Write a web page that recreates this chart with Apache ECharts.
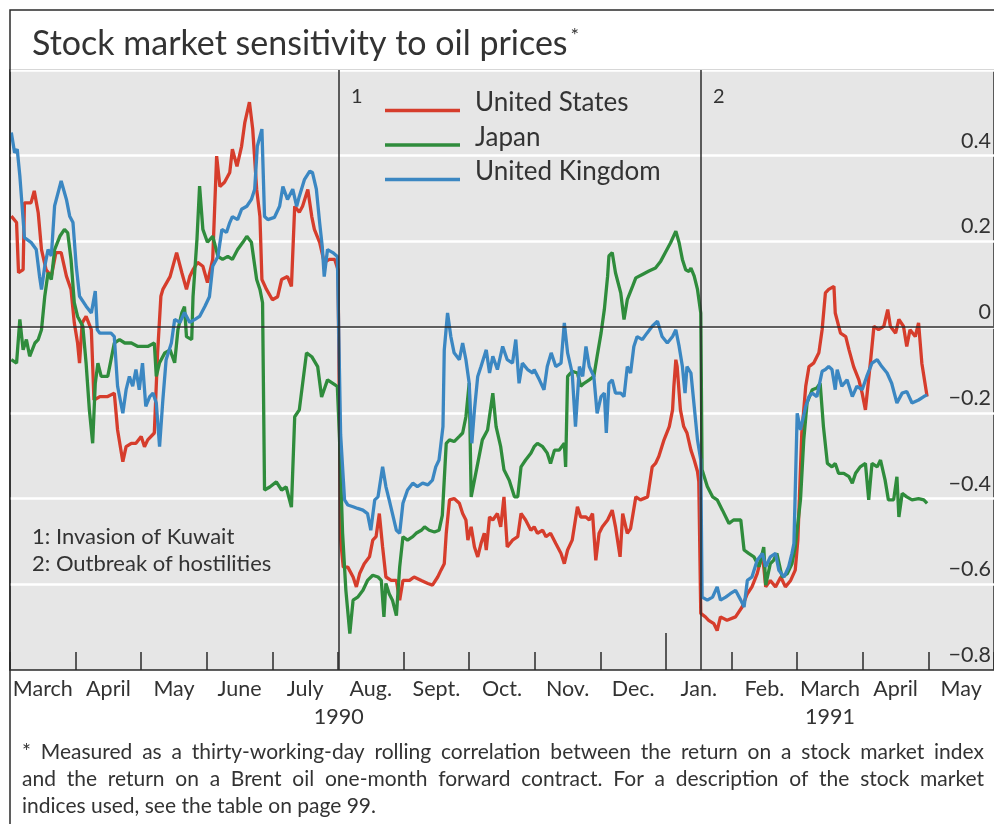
<!DOCTYPE html>
<html>
<head>
<meta charset="utf-8">
<script src="https://cdn.jsdelivr.net/npm/echarts@6/dist/echarts.min.js"></script>
<style>
  html, body { margin: 0; padding: 0; background: #ffffff; }
  #chart { width: 994px; height: 824px; }
</style>
</head>
<body>
<div id="chart"></div>
<script>
// ---- Data (x = months since 1 March 1990, y = rolling correlation) ----
const monthLabels = ['March', 'April', 'May', 'June', 'July', 'Aug.', 'Sept.', 'Oct.', 'Nov.', 'Dec.', 'Jan.', 'Feb.', 'March', 'April', 'May'];
const yearLabels = ['1990', '1991'];
const yearLabelAt = [5.01, 12.5];
const eventMonths = [5.01, 10.53];
const eventTags = ['1', '2'];
const eventNotes = ['1: Invasion of Kuwait', '2: Outbreak of hostilities'];
const seriesNames = ['United States', 'Japan', 'United Kingdom'];

const usData = [
[0.02,0.259],[0.10,0.244],[0.13,0.127],[0.20,0.134],[0.22,0.29],[0.32,0.29],[0.37,0.318],[0.43,0.267],[0.48,0.181],[0.55,0.134],[0.63,0.119],[0.70,0.174],[0.78,0.174],[0.86,0.119],[0.93,0.088],[0.98,0.010],[1.03,-0.037],[1.06,-0.084],[1.10,0.010],[1.16,0.025],[1.24,-0.006],[1.28,-0.170],[1.37,-0.162],[1.49,-0.162],[1.59,-0.154],[1.64,-0.240],[1.72,-0.314],[1.77,-0.279],[1.85,-0.271],[1.92,-0.271],[2.00,-0.255],[2.05,-0.279],[2.10,-0.263],[2.20,-0.247],[2.25,-0.060],[2.30,0.072],[2.33,0.088],[2.44,0.118],[2.54,0.174],[2.62,0.127],[2.69,0.088],[2.74,0.118],[2.79,0.134],[2.86,0.151],[2.94,0.142],[3.01,0.104],[3.09,0.158],[3.15,0.399],[3.20,0.328],[3.27,0.338],[3.35,0.361],[3.39,0.415],[3.46,0.375],[3.53,0.422],[3.58,0.478],[3.65,0.525],[3.70,0.462],[3.76,0.322],[3.81,0.258],[3.84,0.111],[3.91,0.088],[4.00,0.064],[4.08,0.071],[4.14,0.111],[4.23,0.118],[4.29,0.095],[4.34,0.282],[4.41,0.268],[4.46,0.282],[4.54,0.321],[4.60,0.258],[4.64,0.228],[4.72,0.198],[4.79,0.151],[4.87,0.158],[4.95,0.158],[5.00,0.134],[5.04,-0.497],[5.08,-0.560],[5.15,-0.560],[5.23,-0.583],[5.28,-0.606],[5.33,-0.575],[5.40,-0.552],[5.48,-0.536],[5.53,-0.497],[5.58,-0.489],[5.63,-0.435],[5.68,-0.513],[5.73,-0.583],[5.81,-0.591],[5.89,-0.591],[5.94,-0.637],[5.99,-0.591],[6.09,-0.591],[6.16,-0.583],[6.27,-0.591],[6.37,-0.598],[6.44,-0.602],[6.52,-0.583],[6.57,-0.567],[6.62,-0.552],[6.65,-0.481],[6.70,-0.403],[6.77,-0.400],[6.85,-0.411],[6.90,-0.435],[6.95,-0.450],[6.98,-0.497],[7.03,-0.466],[7.08,-0.513],[7.13,-0.536],[7.18,-0.505],[7.23,-0.481],[7.26,-0.520],[7.31,-0.443],[7.36,-0.450],[7.43,-0.435],[7.48,-0.466],[7.53,-0.396],[7.58,-0.513],[7.66,-0.497],[7.74,-0.489],[7.79,-0.435],[7.86,-0.450],[7.94,-0.474],[7.99,-0.466],[8.04,-0.481],[8.12,-0.474],[8.17,-0.489],[8.24,-0.481],[8.32,-0.505],[8.40,-0.528],[8.45,-0.552],[8.50,-0.520],[8.57,-0.497],[8.65,-0.419],[8.70,-0.443],[8.78,-0.443],[8.83,-0.450],[8.88,-0.435],[8.93,-0.544],[8.98,-0.481],[9.03,-0.466],[9.11,-0.450],[9.18,-0.427],[9.23,-0.466],[9.30,-0.536],[9.34,-0.435],[9.41,-0.481],[9.46,-0.470],[9.54,-0.396],[9.61,-0.403],[9.72,-0.396],[9.79,-0.326],[9.84,-0.318],[9.89,-0.302],[9.97,-0.263],[10.05,-0.232],[10.10,-0.193],[10.12,-0.138],[10.15,-0.076],[10.17,-0.092],[10.22,-0.193],[10.27,-0.232],[10.32,-0.247],[10.38,-0.287],[10.43,-0.310],[10.48,-0.337],[10.50,-0.361],[10.53,-0.668],[10.60,-0.676],[10.65,-0.684],[10.73,-0.692],[10.78,-0.708],[10.83,-0.676],[10.93,-0.684],[11.06,-0.676],[11.16,-0.653],[11.24,-0.622],[11.31,-0.606],[11.39,-0.575],[11.47,-0.528],[11.52,-0.606],[11.59,-0.591],[11.67,-0.606],[11.75,-0.583],[11.82,-0.606],[11.90,-0.591],[11.97,-0.567],[12.01,-0.497],[12.07,-0.247],[12.13,-0.138],[12.18,-0.092],[12.25,-0.084],[12.33,-0.060],[12.38,-0.006],[12.43,0.080],[12.48,0.088],[12.56,0.095],[12.58,0.033],[12.66,-0.014],[12.74,-0.022],[12.79,-0.053],[12.86,-0.092],[12.94,-0.123],[12.99,-0.154],[13.04,-0.193],[13.12,-0.076],[13.17,0.002],[13.24,-0.006],[13.32,0.002],[13.38,0.041],[13.42,0.002],[13.50,-0.014],[13.55,0.018],[13.62,0.002],[13.67,-0.045],[13.72,-0.006],[13.80,-0.022],[13.85,0.010],[13.90,-0.084],[13.98,-0.162]
];

const japanData = [
[0.02,-0.076],[0.10,-0.084],[0.15,0.018],[0.20,-0.053],[0.25,-0.029],[0.30,-0.068],[0.38,-0.037],[0.43,-0.029],[0.48,-0.006],[0.53,0.072],[0.58,0.127],[0.63,0.111],[0.68,0.181],[0.76,0.212],[0.83,0.228],[0.88,0.220],[0.93,0.158],[0.98,0.057],[1.03,0.025],[1.11,0.002],[1.16,-0.084],[1.21,-0.193],[1.26,-0.271],[1.30,-0.131],[1.34,-0.084],[1.39,-0.115],[1.49,-0.115],[1.59,-0.037],[1.67,-0.029],[1.75,-0.037],[1.85,-0.037],[1.95,-0.045],[2.10,-0.045],[2.20,-0.037],[2.23,-0.115],[2.28,-0.083],[2.36,-0.060],[2.44,-0.053],[2.51,-0.083],[2.56,-0.006],[2.62,0.034],[2.66,0.048],[2.69,-0.022],[2.77,-0.029],[2.79,0.071],[2.85,0.205],[2.89,0.329],[2.94,0.228],[3.01,0.198],[3.09,0.212],[3.17,0.165],[3.24,0.158],[3.32,0.165],[3.39,0.158],[3.47,0.181],[3.55,0.198],[3.61,0.212],[3.68,0.198],[3.76,0.111],[3.81,0.088],[3.85,0.057],[3.88,-0.380],[3.96,-0.373],[4.06,-0.361],[4.14,-0.380],[4.21,-0.373],[4.29,-0.420],[4.34,-0.209],[4.41,-0.193],[4.52,-0.060],[4.60,-0.069],[4.69,-0.092],[4.75,-0.163],[4.84,-0.123],[4.95,-0.134],[4.99,-0.139],[5.02,-0.247],[5.07,-0.481],[5.12,-0.614],[5.18,-0.715],[5.23,-0.637],[5.30,-0.630],[5.38,-0.614],[5.45,-0.591],[5.53,-0.579],[5.61,-0.583],[5.66,-0.591],[5.70,-0.676],[5.73,-0.598],[5.78,-0.622],[5.83,-0.637],[5.89,-0.673],[5.94,-0.560],[5.99,-0.489],[6.06,-0.497],[6.14,-0.489],[6.19,-0.481],[6.27,-0.474],[6.32,-0.466],[6.39,-0.474],[6.47,-0.478],[6.54,-0.474],[6.59,-0.439],[6.65,-0.271],[6.70,-0.263],[6.77,-0.267],[6.85,-0.255],[6.90,-0.247],[6.95,-0.209],[7.00,-0.131],[7.03,-0.396],[7.13,-0.318],[7.20,-0.263],[7.28,-0.240],[7.36,-0.154],[7.41,-0.232],[7.48,-0.279],[7.53,-0.333],[7.61,-0.357],[7.69,-0.396],[7.74,-0.396],[7.79,-0.326],[7.86,-0.310],[7.94,-0.294],[7.99,-0.279],[8.04,-0.271],[8.12,-0.279],[8.19,-0.294],[8.24,-0.318],[8.30,-0.287],[8.37,-0.287],[8.45,-0.271],[8.47,-0.326],[8.50,-0.115],[8.57,-0.103],[8.65,-0.107],[8.70,-0.138],[8.75,-0.131],[8.83,-0.123],[8.90,-0.115],[8.95,-0.068],[9.01,-0.014],[9.06,0.041],[9.11,0.119],[9.13,0.166],[9.18,0.174],[9.23,0.127],[9.31,0.080],[9.36,0.018],[9.41,0.064],[9.49,0.095],[9.54,0.115],[9.64,0.123],[9.74,0.131],[9.84,0.138],[9.92,0.154],[9.99,0.174],[10.07,0.197],[10.15,0.224],[10.20,0.197],[10.25,0.158],[10.30,0.134],[10.35,0.130],[10.38,0.138],[10.43,0.119],[10.48,0.088],[10.53,0.033],[10.55,-0.333],[10.63,-0.372],[10.71,-0.396],[10.78,-0.403],[10.86,-0.427],[10.96,-0.458],[11.03,-0.450],[11.14,-0.450],[11.19,-0.520],[11.26,-0.528],[11.34,-0.536],[11.42,-0.559],[11.49,-0.513],[11.52,-0.602],[11.59,-0.552],[11.64,-0.544],[11.69,-0.528],[11.77,-0.583],[11.85,-0.575],[11.92,-0.552],[11.97,-0.513],[12.05,-0.403],[12.10,-0.263],[12.15,-0.177],[12.23,-0.146],[12.30,-0.142],[12.35,-0.131],[12.40,-0.232],[12.46,-0.318],[12.53,-0.326],[12.58,-0.318],[12.63,-0.341],[12.71,-0.341],[12.79,-0.349],[12.84,-0.364],[12.89,-0.341],[12.96,-0.326],[13.04,-0.318],[13.09,-0.403],[13.14,-0.318],[13.22,-0.326],[13.27,-0.310],[13.34,-0.357],[13.39,-0.403],[13.47,-0.403],[13.52,-0.349],[13.55,-0.443],[13.60,-0.388],[13.67,-0.396],[13.75,-0.403],[13.85,-0.400],[13.93,-0.403],[13.98,-0.411]
];

const ukData = [
[0.02,0.454],[0.07,0.407],[0.11,0.415],[0.15,0.353],[0.20,0.251],[0.22,0.209],[0.32,0.198],[0.40,0.181],[0.45,0.119],[0.48,0.088],[0.53,0.142],[0.58,0.181],[0.63,0.166],[0.68,0.283],[0.78,0.341],[0.86,0.298],[0.91,0.259],[0.96,0.244],[1.01,0.142],[1.06,0.072],[1.16,0.049],[1.24,0.033],[1.30,0.084],[1.33,-0.006],[1.37,-0.014],[1.54,-0.014],[1.59,-0.022],[1.64,-0.138],[1.72,-0.201],[1.77,-0.146],[1.82,-0.115],[1.87,-0.138],[1.92,-0.099],[1.97,-0.146],[2.02,-0.084],[2.07,-0.185],[2.13,-0.162],[2.18,-0.154],[2.23,-0.177],[2.28,-0.279],[2.33,-0.170],[2.38,-0.076],[2.46,-0.037],[2.51,0.018],[2.59,0.011],[2.66,0.034],[2.74,0.011],[2.82,0.018],[2.89,0.025],[2.97,0.048],[3.04,0.071],[3.09,0.142],[3.17,0.165],[3.23,0.228],[3.30,0.221],[3.35,0.244],[3.39,0.258],[3.47,0.251],[3.53,0.275],[3.61,0.282],[3.68,0.298],[3.73,0.322],[3.77,0.422],[3.84,0.462],[3.88,0.258],[3.93,0.251],[4.03,0.256],[4.11,0.282],[4.16,0.328],[4.23,0.298],[4.31,0.322],[4.37,0.282],[4.41,0.305],[4.49,0.345],[4.57,0.364],[4.61,0.361],[4.67,0.322],[4.72,0.244],[4.76,0.188],[4.79,0.118],[4.84,0.181],[4.92,0.174],[4.99,0.165],[5.04,-0.251],[5.10,-0.403],[5.15,-0.415],[5.23,-0.419],[5.30,-0.423],[5.38,-0.427],[5.45,-0.435],[5.50,-0.474],[5.56,-0.403],[5.61,-0.396],[5.68,-0.326],[5.73,-0.372],[5.78,-0.403],[5.83,-0.435],[5.89,-0.474],[5.94,-0.481],[5.99,-0.411],[6.06,-0.380],[6.14,-0.364],[6.21,-0.372],[6.29,-0.364],[6.37,-0.368],[6.44,-0.357],[6.49,-0.326],[6.54,-0.310],[6.60,-0.232],[6.62,-0.053],[6.67,0.033],[6.72,-0.022],[6.77,-0.060],[6.85,-0.076],[6.90,-0.037],[6.95,-0.076],[7.00,-0.131],[7.04,-0.271],[7.08,-0.193],[7.13,-0.115],[7.18,-0.092],[7.26,-0.053],[7.31,-0.107],[7.36,-0.068],[7.43,-0.099],[7.51,-0.045],[7.58,-0.076],[7.66,-0.084],[7.71,-0.029],[7.76,-0.131],[7.81,-0.084],[7.89,-0.099],[7.97,-0.107],[7.99,-0.099],[8.07,-0.123],[8.14,-0.146],[8.19,-0.092],[8.25,-0.060],[8.32,-0.092],[8.40,-0.084],[8.45,0.010],[8.50,-0.060],[8.57,-0.107],[8.62,-0.232],[8.68,-0.092],[8.73,-0.115],[8.78,-0.045],[8.83,-0.092],[8.90,-0.115],[8.95,-0.201],[9.01,-0.162],[9.06,-0.154],[9.09,-0.247],[9.13,-0.131],[9.18,-0.123],[9.23,-0.154],[9.31,-0.154],[9.36,-0.162],[9.41,-0.092],[9.46,-0.107],[9.51,-0.045],[9.56,-0.022],[9.64,-0.029],[9.71,-0.014],[9.79,0.002],[9.87,0.014],[9.94,-0.022],[10.02,-0.037],[10.10,-0.022],[10.15,-0.006],[10.20,-0.045],[10.25,-0.092],[10.29,-0.154],[10.32,-0.092],[10.38,-0.107],[10.43,-0.185],[10.48,-0.263],[10.53,-0.310],[10.55,-0.630],[10.63,-0.637],[10.71,-0.630],[10.78,-0.606],[10.83,-0.637],[10.91,-0.630],[10.98,-0.622],[11.06,-0.614],[11.14,-0.637],[11.19,-0.653],[11.24,-0.591],[11.31,-0.583],[11.39,-0.544],[11.47,-0.528],[11.52,-0.559],[11.59,-0.536],[11.67,-0.528],[11.72,-0.567],[11.80,-0.583],[11.87,-0.559],[11.92,-0.528],[11.95,-0.505],[12.00,-0.201],[12.05,-0.240],[12.13,-0.185],[12.18,-0.162],[12.23,-0.154],[12.30,-0.162],[12.38,-0.103],[12.43,-0.099],[12.48,-0.092],[12.53,-0.099],[12.58,-0.146],[12.61,-0.099],[12.68,-0.138],[12.76,-0.123],[12.84,-0.162],[12.91,-0.138],[12.99,-0.146],[13.06,-0.115],[13.14,-0.084],[13.22,-0.076],[13.29,-0.092],[13.37,-0.107],[13.44,-0.131],[13.52,-0.177],[13.60,-0.154],[13.67,-0.150],[13.75,-0.177],[13.85,-0.170],[13.93,-0.162],[13.98,-0.158]
];

const footnoteLines = [
  '* Measured as a thirty-working-day rolling correlation between the return on a stock market index',
  'and the return on a Brent oil one-month forward contract. For a description of the stock market',
  'indices used, see the table on page 99.'
];

// ---- Styles ----
const FONT = 'Lato, "Open Sans", sans-serif';
const INK = '#333333';
const RULE = '#2b2b2b';
const colors = ['#d63d2c', '#2f8c3c', '#3b87c2'];
// legend key: a short rule sitting low in its box (the leading move-to keeps the box height)
const LEGEND_KEY = 'path://M0,0 M0,15 L75,15 L75,18.5 L0,18.5 Z';

const chart = echarts.init(document.getElementById('chart'), null, { renderer: 'canvas' });

const graphics = [
  { type: 'rect', silent: true, z: 10,
    shape: { x: 10, y: 10, width: 1100, height: 900 },
    style: { fill: null, stroke: RULE, lineWidth: 1.5 } }
];
eventTags.forEach((tag, i) => {
  graphics.push({ type: 'text', silent: true, z: 10,
    x: i === 0 ? 351 : 713, y: 97,
    style: { text: tag, font: '20px ' + FONT, fill: INK, verticalAlign: 'middle' } });
});
eventNotes.forEach((note, i) => {
  graphics.push({ type: 'text', silent: true, z: 10,
    x: 32, y: 537 + i * 26.5,
    style: { text: note, font: '22px ' + FONT, fill: INK, verticalAlign: 'middle' } });
});

// Footnote: first two lines justified between the margins, last line left-aligned
const NOTE_FONT = '21px ' + FONT;
const NOTE_LEFT = 22, NOTE_RIGHT = 984;
const measureCtx = document.createElement('canvas').getContext('2d');
measureCtx.font = NOTE_FONT;
footnoteLines.forEach((line, i) => {
  const y = 752 + i * 27;
  const words = line.split(' ');
  if (i === footnoteLines.length - 1 || words.length < 2) {
    graphics.push({ type: 'text', silent: true, z: 10, x: NOTE_LEFT, y: y,
      style: { text: line, font: NOTE_FONT, fill: INK, verticalAlign: 'middle' } });
    return;
  }
  const widths = words.map(w => measureCtx.measureText(w).width);
  const total = widths.reduce((a, b) => a + b, 0);
  const gap = (NOTE_RIGHT - NOTE_LEFT - total) / (words.length - 1);
  let x = NOTE_LEFT;
  words.forEach((w, k) => {
    graphics.push({ type: 'text', silent: true, z: 10, x: x, y: y,
      style: { text: w, font: NOTE_FONT, fill: INK, verticalAlign: 'middle' } });
    x += widths[k] + gap;
  });
});

const option = {
  animation: false,
  backgroundColor: '#ffffff',
  textStyle: { fontFamily: FONT },
  title: {
    text: '{t|Stock market sensitivity to oil prices}{s|*}',
    left: 32, top: 26, padding: 0,
    textStyle: {
      rich: {
        t: { fontFamily: FONT, fontSize: 34, fontWeight: 'normal', color: INK, lineHeight: 36 },
        s: { fontFamily: FONT, fontSize: 20, fontWeight: 'normal', color: INK, verticalAlign: 'top', lineHeight: 36, padding: [0, 0, 12, 3] }
      }
    }
  },
  legend: {
    orient: 'vertical',
    left: 385, top: 90, padding: 0,
    itemWidth: 75, itemHeight: 18.5, itemGap: 8.5,
    icon: LEGEND_KEY,
    data: seriesNames,
    textStyle: { fontFamily: FONT, fontSize: 26, color: INK, lineHeight: 26, padding: [0, 0, 0, 10] }
  },
  grid: {
    left: 10, top: 70, width: 985.5, height: 600,
    show: true, backgroundColor: '#e6e6e6', borderColor: RULE, borderWidth: 1.5,
    containLabel: false
  },
  xAxis: [
    {
      type: 'category', data: monthLabels, boundaryGap: true, position: 'bottom',
      axisLine: { onZero: false, lineStyle: { color: RULE, width: 1.5 } },
      axisTick: { show: true, inside: true, length: 18, lineStyle: { color: RULE, width: 1.5 } },
      axisLabel: { interval: 0, margin: 8, fontFamily: FONT, fontSize: 21.5, color: INK },
      splitLine: { show: false }
    },
    {
      type: 'value', min: 0, max: 15, show: false,
      axisLine: { onZero: false }
    },
    {
      type: 'value', min: 0, max: 15, position: 'bottom',
      axisLine: { show: false, onZero: false },
      axisTick: { show: true, inside: true, length: 37, customValues: [10], lineStyle: { color: RULE, width: 1.5 } },
      axisLabel: { show: true, margin: 36, customValues: yearLabelAt, fontFamily: FONT, fontSize: 21.5, color: INK,
        formatter: (v) => (v < 8 ? yearLabels[0] : yearLabels[1]) },
      splitLine: { show: false }
    }
  ],
  yAxis: {
    type: 'value', min: -0.8, max: 0.6, interval: 0.2, position: 'right',
    axisLine: { show: false }, axisTick: { show: false },
    axisLabel: {
      inside: true, margin: 3, fontFamily: FONT, fontSize: 21.5, color: INK,
      verticalAlign: 'bottom', lineHeight: 22, padding: [0, 0, 4, 0],
      formatter: (v) => {
        if (v > 0.5) return '';
        if (Math.abs(v) < 1e-9) return '0';
        return (v < 0 ? '\u2212' : '') + Math.abs(v).toFixed(1);
      }
    },
    splitLine: { show: true, lineStyle: { color: '#ffffff', width: 2.5 } }
  },
  graphic: graphics,
  series: [
    {
      name: seriesNames[0], type: 'line', xAxisIndex: 1, data: usData,
      showSymbol: false, symbol: 'none', color: colors[0],
      lineStyle: { width: 3.3, color: colors[0] },
      markLine: {
        silent: true, symbol: 'none', label: { show: false },
        lineStyle: { color: RULE, width: 1.5, type: 'solid' },
        data: [{ xAxis: eventMonths[0] }, { xAxis: eventMonths[1] }, { yAxis: 0 }]
      }
    },
    {
      name: seriesNames[1], type: 'line', xAxisIndex: 1, data: japanData,
      showSymbol: false, symbol: 'none', color: colors[1],
      lineStyle: { width: 3.3, color: colors[1] }
    },
    {
      name: seriesNames[2], type: 'line', xAxisIndex: 1, data: ukData,
      showSymbol: false, symbol: 'none', color: colors[2],
      lineStyle: { width: 3.3, color: colors[2] }
    }
  ]
};

chart.setOption(option);
</script>
</body>
</html>
